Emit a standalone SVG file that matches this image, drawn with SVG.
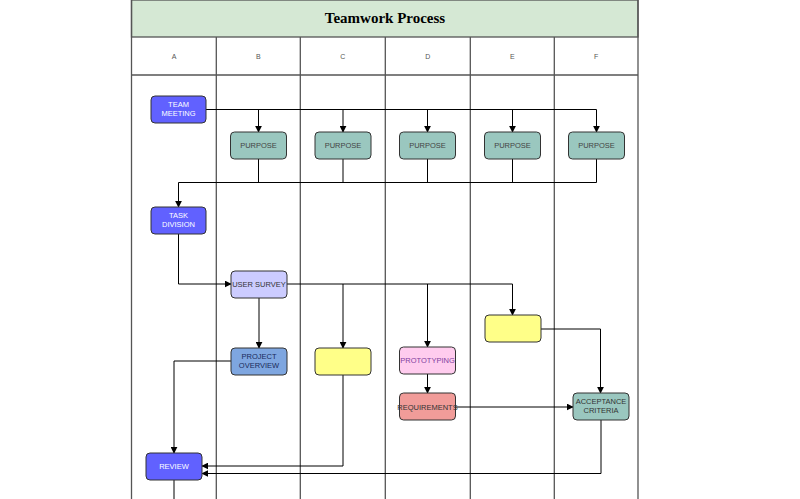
<svg xmlns="http://www.w3.org/2000/svg" width="800" height="499" viewBox="0 0 800 499">
<defs>
<marker id="arr" viewBox="0 0 10 10" refX="9" refY="5" markerWidth="7" markerHeight="7" markerUnits="userSpaceOnUse" orient="auto">
<path d="M0,0 L10,5 L0,10 Z" fill="#000"/>
</marker>
<style>
.lane{fill:none;stroke:#555;stroke-width:1.3}
.node rect{stroke:#333;stroke-width:1}
.t{font-family:"Liberation Sans",Arial,sans-serif;font-size:7.5px;text-anchor:middle}
.lbl{font-family:"Liberation Sans",Arial,sans-serif;font-size:7px;text-anchor:middle;fill:#555}
.c{fill:none;stroke:#000;stroke-width:1}
.ca{fill:none;stroke:#000;stroke-width:1;marker-end:url(#arr)}
</style>
</defs>
<rect width="800" height="499" fill="#fff"/>
<g id="pool">
<rect x="131.5" y="0" width="506.5" height="37" fill="#d5e8d4" stroke="#555" stroke-width="1.3"/>
<text x="385" y="23" font-family="'Liberation Serif','Times New Roman',serif" font-size="15" font-weight="bold" text-anchor="middle" fill="#000">Teamwork Process</text>
<line class="lane" x1="131.5" y1="0" x2="131.5" y2="499"/>
<line class="lane" x1="638" y1="0" x2="638" y2="499"/>
<line class="lane" x1="131.5" y1="75" x2="638" y2="75"/>
<line class="lane" x1="216.3" y1="37" x2="216.3" y2="499"/>
<line class="lane" x1="300.3" y1="37" x2="300.3" y2="499"/>
<line class="lane" x1="385.3" y1="37" x2="385.3" y2="499"/>
<line class="lane" x1="470.3" y1="37" x2="470.3" y2="499"/>
<line class="lane" x1="554.3" y1="37" x2="554.3" y2="499"/>
<text class="lbl" x="174" y="58.5">A</text>
<text class="lbl" x="258.3" y="58.5">B</text>
<text class="lbl" x="342.8" y="58.5">C</text>
<text class="lbl" x="427.8" y="58.5">D</text>
<text class="lbl" x="512.3" y="58.5">E</text>
<text class="lbl" x="596.2" y="58.5">F</text>
</g>
<g id="connectors">
<polyline class="c" points="206,109.5 596.5,109.5"/>
<line class="ca" x1="258.5" y1="109.5" x2="258.5" y2="132"/>
<line class="ca" x1="343" y1="109.5" x2="343" y2="132"/>
<line class="ca" x1="427.5" y1="109.5" x2="427.5" y2="132"/>
<line class="ca" x1="512.5" y1="109.5" x2="512.5" y2="132"/>
<line class="ca" x1="596.5" y1="109.5" x2="596.5" y2="132"/>
<line class="c" x1="258.5" y1="159" x2="258.5" y2="182.5"/>
<line class="c" x1="343" y1="159" x2="343" y2="182.5"/>
<line class="c" x1="427.5" y1="159" x2="427.5" y2="182.5"/>
<line class="c" x1="512.5" y1="159" x2="512.5" y2="182.5"/>
<polyline class="ca" points="596.5,159 596.5,182.5 178.5,182.5 178.5,207"/>
<polyline class="ca" points="178.5,234 178.5,284 231,284"/>
<polyline class="ca" points="287,284 512.5,284 512.5,315"/>
<line class="ca" x1="343" y1="284" x2="343" y2="348"/>
<line class="ca" x1="427.5" y1="284" x2="427.5" y2="347"/>
<line class="ca" x1="259" y1="298" x2="259" y2="348"/>
<polyline class="ca" points="231,361 174,361 174,453"/>
<polyline class="ca" points="343,375 343,466 202,466"/>
<line class="ca" x1="427.5" y1="374" x2="427.5" y2="393"/>
<line class="ca" x1="455.5" y1="407" x2="573" y2="407"/>
<polyline class="ca" points="541,329 600.5,329 600.5,393"/>
<polyline class="ca" points="601,420 601,473.5 202,473.5"/>
<line class="c" x1="174" y1="480" x2="174" y2="499"/>
</g>
<g id="team-meeting" class="node"><rect x="151" y="96" width="55" height="27" rx="4" fill="#6161ff"/><text class="t" x="178.5" y="107" fill="#fff">TEAM</text><text class="t" x="178.5" y="116" fill="#fff">MEETING</text></g>
<g id="purpose-b" class="node"><rect x="230.5" y="132" width="56" height="27" rx="4" fill="#9ac7bf"/><text class="t" x="258.5" y="148" fill="#444">PURPOSE</text></g>
<g id="purpose-c" class="node"><rect x="315" y="132" width="56" height="27" rx="4" fill="#9ac7bf"/><text class="t" x="343" y="148" fill="#444">PURPOSE</text></g>
<g id="purpose-d" class="node"><rect x="399.5" y="132" width="56" height="27" rx="4" fill="#9ac7bf"/><text class="t" x="427.5" y="148" fill="#444">PURPOSE</text></g>
<g id="purpose-e" class="node"><rect x="484.5" y="132" width="56" height="27" rx="4" fill="#9ac7bf"/><text class="t" x="512.5" y="148" fill="#444">PURPOSE</text></g>
<g id="purpose-f" class="node"><rect x="568.5" y="132" width="56" height="27" rx="4" fill="#9ac7bf"/><text class="t" x="596.5" y="148" fill="#444">PURPOSE</text></g>
<g id="task-division" class="node"><rect x="151" y="207" width="55" height="27" rx="4" fill="#6161ff"/><text class="t" x="178.5" y="218" fill="#fff">TASK</text><text class="t" x="178.5" y="227" fill="#fff">DIVISION</text></g>
<g id="user-survey" class="node"><rect x="231" y="271" width="56" height="27" rx="4" fill="#ccccff"/><text class="t" x="259" y="287" fill="#333">USER SURVEY</text></g>
<g id="project-overview" class="node"><rect x="231" y="348" width="56" height="27" rx="4" fill="#7ea6e0"/><text class="t" x="259" y="359" fill="#1a2a5a">PROJECT</text><text class="t" x="259" y="368" fill="#1a2a5a">OVERVIEW</text></g>
<g id="yellow-c" class="node"><rect x="315" y="348" width="56" height="27" rx="4" fill="#ffff88"/></g>
<g id="yellow-e" class="node"><rect x="485" y="315" width="56" height="27" rx="4" fill="#ffff88"/></g>
<g id="prototyping" class="node"><rect x="399.5" y="347" width="56" height="27" rx="4" fill="#ffccee"/><text class="t" x="427.5" y="363" fill="#7f3f9f">PROTOTYPING</text></g>
<g id="requirements" class="node"><rect x="399.5" y="393" width="56" height="27" rx="4" fill="#f19c99"/><text class="t" x="427.5" y="409.5" fill="#333">REQUIREMENTS</text></g>
<g id="acceptance-criteria" class="node"><rect x="573" y="393" width="56" height="27" rx="4" fill="#9ac7bf"/><text class="t" x="601" y="404" fill="#333">ACCEPTANCE</text><text class="t" x="601" y="413" fill="#333">CRITERIA</text></g>
<g id="review" class="node"><rect x="146" y="453" width="56" height="27" rx="4" fill="#6161ff"/><text class="t" x="174" y="469" fill="#fff">REVIEW</text></g>
</svg>
